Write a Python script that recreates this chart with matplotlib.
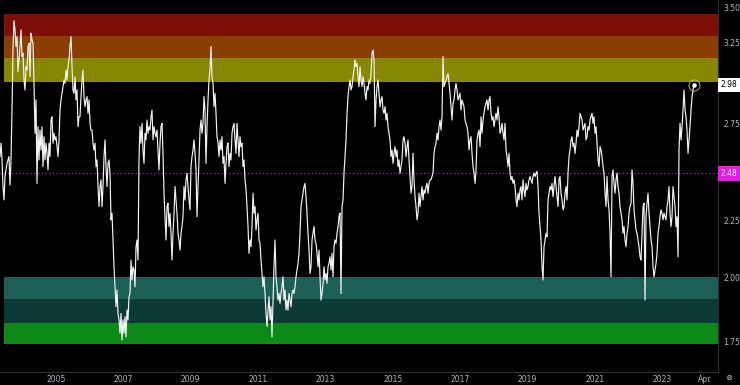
import matplotlib
matplotlib.use("Agg")
import matplotlib.pyplot as plt
import matplotlib.transforms as mtransforms
import matplotlib.ticker as mticker
import pandas as pd
import numpy as np

# ---------------- data ----------------
seg1 = [2.568, 2.640, 2.550, 2.413, 2.347, 2.464, 2.498, 2.532, 2.550, 2.568,
        2.421, 2.550, 2.828, 3.203, 3.404, 3.339, 3.226, 3.293, 3.062, 3.138,
        3.226, 3.339, 3.160, 3.181, 3.010, 2.948, 3.094, 3.073, 3.226, 3.248,
        3.031, 3.316, 3.271, 3.248, 2.989, 2.695, 2.888, 2.429, 2.732, 2.550,
        2.713, 2.603, 2.732, 2.515, 2.676, 2.550, 2.640, 2.585, 2.498, 2.640,
        2.568, 2.770, 2.789, 2.640, 2.695, 2.658, 2.676, 2.621, 2.568, 2.658,
        2.828, 2.888, 2.928, 2.969, 3.010, 2.989, 3.073, 3.010, 3.094, 3.138,
        3.226, 3.293, 3.094, 2.948, 2.928, 3.031, 2.888, 2.948, 2.732, 2.789,
        2.789, 2.908, 3.010, 3.073, 2.908, 2.848, 2.888, 2.908, 2.809, 2.888,
        2.751, 2.713, 2.713, 2.640, 2.603, 2.640, 2.515, 2.550, 2.413, 2.315,
        2.413, 2.447, 2.315, 2.413, 2.568, 2.658, 2.515, 2.413, 2.532, 2.550,
        2.481, 2.252, 2.283, 2.160, 2.043, 1.960, 1.881, 1.947, 1.855, 1.830]
seg2 = [1.780, 1.855, 1.755, 1.830, 1.780, 1.842, 1.767, 1.868, 1.830, 1.920,
        1.933, 2.072, 1.988, 2.043, 2.029, 1.960, 2.130, 2.160, 2.072, 2.550,
        2.732, 2.640, 2.751, 2.603, 2.532, 2.695, 2.658, 2.770, 2.695, 2.732,
        2.713, 2.789, 2.828, 2.658, 2.732, 2.695, 2.676, 2.713, 2.603, 2.498,
        2.640, 2.732, 2.751, 2.585, 2.380, 2.267, 2.160, 2.315, 2.331, 2.221,
        2.283, 2.190, 2.072, 2.190, 2.283, 2.413, 2.347, 2.283, 2.190, 2.160,
        2.115, 2.190, 2.221, 2.267, 2.413, 2.347, 2.447, 2.481, 2.413, 2.347,
        2.299, 2.515, 2.568, 2.603, 2.658, 2.585, 2.498, 2.267, 2.413, 2.550,
        2.713, 2.770, 2.695, 2.751, 2.908, 2.828, 2.532, 2.732, 2.888, 3.010,
        3.073, 3.226, 3.031, 2.989, 2.848, 2.928, 2.809, 2.676, 2.640, 2.568,
        2.658, 2.603, 2.676, 2.532, 2.568, 2.429, 2.532, 2.621, 2.640, 2.515,
        2.585, 2.550, 2.695, 2.732, 2.751, 2.658, 2.585, 2.751, 2.658, 2.568]
seg3 = [2.676, 2.621, 2.640, 2.515, 2.550, 2.447, 2.396, 2.315, 2.221, 2.101,
        2.160, 2.130, 2.221, 2.380, 2.283, 2.315, 2.205, 2.252, 2.283, 2.160,
        2.145, 2.072, 2.015, 1.960, 2.001, 1.933, 1.855, 1.805, 1.868, 1.920,
        1.830, 1.881, 1.767, 1.907, 2.043, 2.160, 2.001, 1.960, 1.907, 1.933,
        1.894, 1.933, 1.960, 2.001, 1.907, 1.947, 1.868, 1.907, 1.868, 1.933,
        1.907, 1.881, 1.933, 1.947, 1.933, 1.960, 2.001, 2.029, 2.058, 2.101,
        2.190, 2.315, 2.347, 2.380, 2.413, 2.429, 2.363, 2.283, 2.190, 2.115,
        2.015, 2.043, 2.160, 2.190, 2.221, 2.160, 2.145, 2.101, 2.043, 2.115,
        2.001, 1.907, 1.933, 1.974, 2.043, 1.988, 2.015, 1.974, 2.043, 2.058,
        2.086, 2.029, 2.101, 2.001, 2.130, 2.160, 2.145, 2.190, 2.221, 2.267,
        2.283, 1.933, 2.315, 2.347, 2.481, 2.568, 2.658, 2.809, 2.908, 2.969,
        3.010, 2.948, 2.969, 3.031, 3.073, 3.138, 3.094, 3.116, 3.031, 2.969]
seg4 = [3.094, 3.010, 2.969, 3.031, 2.989, 2.928, 2.888, 2.969, 2.948, 3.010,
        2.989, 3.052, 3.181, 3.203, 3.138, 2.732, 2.888, 2.969, 3.010, 2.928,
        2.848, 2.888, 2.908, 2.828, 2.809, 2.848, 2.770, 2.809, 2.732, 2.695,
        2.658, 2.568, 2.603, 2.532, 2.585, 2.621, 2.568, 2.603, 2.515, 2.550,
        2.481, 2.515, 2.550, 2.658, 2.676, 2.640, 2.568, 2.621, 2.658, 2.550,
        2.464, 2.380, 2.413, 2.585, 2.447, 2.363, 2.315, 2.252, 2.283, 2.380,
        2.315, 2.363, 2.413, 2.347, 2.396, 2.380, 2.413, 2.429, 2.380, 2.429,
        2.447, 2.447, 2.464, 2.481, 2.585, 2.621, 2.640, 2.695, 2.658, 2.732,
        2.770, 2.713, 2.789, 3.160, 2.969, 2.989, 3.010, 3.031, 3.052, 2.989,
        2.928, 2.848, 2.770, 2.868, 2.888, 2.948, 2.989, 2.948, 2.888, 2.908,
        2.928, 2.828, 2.888, 2.868, 2.848, 2.770, 2.751, 2.732, 2.695, 2.603,
        2.658, 2.676, 2.585, 2.515, 2.481, 2.429, 2.498, 2.658, 2.695, 2.713]
seg5 = [2.621, 2.789, 2.695, 2.770, 2.809, 2.848, 2.868, 2.888, 2.828, 2.888,
        2.908, 2.809, 2.770, 2.789, 2.732, 2.770, 2.809, 2.770, 2.848, 2.789,
        2.695, 2.713, 2.751, 2.695, 2.658, 2.751, 2.603, 2.568, 2.515, 2.585,
        2.481, 2.447, 2.464, 2.429, 2.447, 2.413, 2.347, 2.315, 2.380, 2.347,
        2.396, 2.413, 2.347, 2.447, 2.396, 2.363, 2.429, 2.396, 2.413, 2.447,
        2.464, 2.447, 2.429, 2.464, 2.481, 2.464, 2.481, 2.489, 2.413, 2.283,
        2.221, 2.160, 2.043, 1.988, 2.130, 2.160, 2.190, 2.175, 2.347, 2.380,
        2.413, 2.396, 2.429, 2.363, 2.413, 2.464, 2.413, 2.363, 2.315, 2.447,
        2.464, 2.380, 2.347, 2.299, 2.315, 2.380, 2.413, 2.347, 2.481, 2.568,
        2.603, 2.658, 2.676, 2.621, 2.640, 2.585, 2.640, 2.713, 2.676, 2.732,
        2.809, 2.789, 2.770, 2.713, 2.732, 2.751, 2.658, 2.676, 2.732, 2.713,
        2.770, 2.789, 2.809, 2.751, 2.789, 2.695, 2.732, 2.640, 2.550, 2.515]
seg6 = [2.621, 2.603, 2.568, 2.515, 2.481, 2.380, 2.315, 2.464, 2.347, 2.299,
        2.190, 2.001, 2.464, 2.498, 2.429, 2.380, 2.447, 2.481, 2.413, 2.380,
        2.315, 2.283, 2.252, 2.190, 2.221, 2.160, 2.130, 2.190, 2.221, 2.283,
        2.315, 2.331, 2.498, 2.429, 2.299, 2.252, 2.205, 2.190, 2.160, 2.130,
        2.086, 2.072, 2.190, 2.315, 2.331, 1.907, 2.267, 2.331, 2.380, 2.283,
        2.221, 2.160, 2.130, 2.043, 2.001, 2.029, 2.058, 2.101, 2.190, 2.221,
        2.267, 2.299, 2.283, 2.252, 2.283, 2.267, 2.252, 2.315, 2.347, 2.413,
        2.283, 2.221, 2.267, 2.413, 2.363, 2.315, 2.221, 2.267, 2.086, 2.603,
        2.751, 2.658, 2.732, 2.828, 2.948, 2.828, 2.789, 2.713, 2.585, 2.658,
        2.732, 2.828, 2.908, 2.948, 2.980]

values = seg1 + seg2 + seg3 + seg4 + seg5 + seg6
dates = pd.date_range("2003-05-06", "2023-12-13", periods=len(values))

upper_bands = [3.00, 3.15, 3.30, 3.45]
upper_colors = ["#858800", "#8a3e02", "#7e0f06"]
lower_bands = [1.74, 1.82, 1.91, 2.00]
lower_colors = ["#0b8a17", "#0b3b34", "#1b5f55"]

mid_level = 2.48
last_value = 2.98
year_ticks = [2005, 2007, 2009, 2011, 2013, 2015, 2017, 2019, 2021, 2023]
y_ticks = [1.75, 2.00, 2.25, 2.50, 2.75, 3.00, 3.25, 3.50]

# ---------------- figure ----------------
BG = "#000000"
TXT = "#b2b5be"
fig = plt.figure(figsize=(7.4, 3.85), dpi=100, facecolor=BG)
ax = fig.add_axes([0.0, 13 / 385, 718 / 740, 372 / 385])
ax.set_facecolor(BG)
ax.set_yscale("log")
ax.set_ylim(1.6426, 3.553)
xmin = pd.Timestamp("2003-05-06")
xmax = pd.Timestamp("2024-08-29")
ax.set_xlim(xmin, xmax)

band_start = 4 / 718
for lo, hi, c in zip(upper_bands[:-1], upper_bands[1:], upper_colors):
    ax.axhspan(lo, hi, xmin=band_start, xmax=1, color=c, lw=0, zorder=1)
for lo, hi, c in zip(lower_bands[:-1], lower_bands[1:], lower_colors):
    ax.axhspan(lo, hi, xmin=band_start, xmax=1, color=c, lw=0, zorder=1)

ax.axhline(mid_level, color="#a62bbd", lw=0.9, ls=(0, (1, 2)), zorder=2)

ax.plot(dates, values, color="#f2f2f2", lw=0.85, zorder=3)
ax.plot(dates[-1], values[-1], marker="o", ms=8, mfc="none", mec="#bfbfbf",
        mew=0.6, zorder=4)
ax.plot(dates[-1], values[-1], marker="o", ms=2.2, color="#ffffff", zorder=5)

# axes styling
for s in ["top", "left"]:
    ax.spines[s].set_visible(False)
ax.spines["right"].set_color("#2a2e39")
ax.spines["bottom"].set_color("#2a2e39")
ax.spines["right"].set_linewidth(0.8)
ax.spines["bottom"].set_linewidth(0.8)

ax.yaxis.tick_right()
ax.yaxis.set_major_locator(mticker.FixedLocator(y_ticks))
ax.yaxis.set_minor_locator(mticker.NullLocator())
ax.yaxis.set_major_formatter(mticker.FuncFormatter(lambda v, p: f"{v:.2f}"))
ax.yaxis.set_minor_formatter(mticker.NullFormatter())
ax.tick_params(axis="y", length=0, pad=4, labelsize=5.5, labelcolor=TXT)

xt = [pd.Timestamp(f"{y}-01-01") for y in year_ticks] + [pd.Timestamp("2024-04-01")]
xl = [str(y) for y in year_ticks] + ["Apr"]
ax.set_xticks(xt)
ax.set_xticklabels(xl)
ax.tick_params(axis="x", length=0, pad=2.2, labelsize=5.5, labelcolor=TXT)
ax.grid(False)

# price labels on the right axis
trans = mtransforms.blended_transform_factory(ax.transAxes, ax.transData)
ax.text(1.004, last_value, f"{last_value:.2f}", transform=trans, ha="left",
        va="center", fontsize=5.5, color="#000000", zorder=10, clip_on=False,
        bbox=dict(boxstyle="square,pad=0.35", fc="#ffffff", ec="none"))
ax.text(1.004, mid_level, f"{mid_level:.2f}", transform=trans, ha="left",
        va="center", fontsize=5.5, color="#ffffff", zorder=10, clip_on=False,
        bbox=dict(boxstyle="square,pad=0.35", fc="#e01ee6", ec="none"))

fig.text(729 / 740, 1 - 378 / 385, "\u2297", ha="center", va="center",
         fontsize=6, color=TXT)

fig.savefig("out.png", dpi=100, facecolor=BG)
